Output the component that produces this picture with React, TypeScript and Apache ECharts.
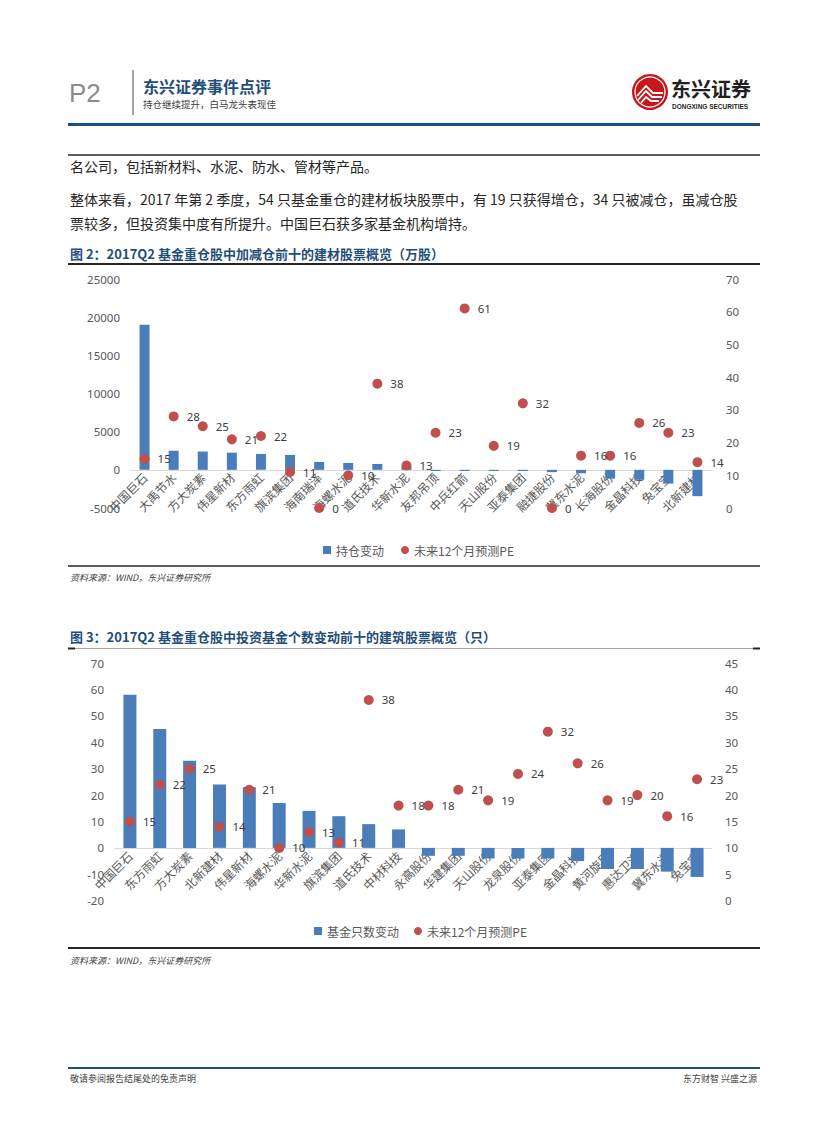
import React, { useEffect, useRef } from 'react';
import * as echarts from 'echarts';

// ---- Figure 2 data ----
const cats1 = ['中国巨石', '大禹节水', '方大炭素', '伟星新材', '东方雨虹', '旗滨集团', '海南瑞泽', '海螺水泥', '道氏技术', '华新水泥', '友邦吊顶', '中兵红箭', '天山股份', '亚泰集团', '融捷股份', '冀东水泥', '长海股份', '金晶科技', '兔宝宝', '北新建材'];
const hold1 = [19000, 2500, 2400, 2250, 2080, 1950, 1030, 900, 770, 430, -150, -150, -150, -150, -300, -450, -1150, -1300, -1800, -3450];
const pe1 = [15, 28, 25, 21, 22, 11, 0, 10, 38, 13, 23, 61, 19, 32, 0, 16, 16, 26, 23, 14];

// ---- Figure 3 data ----
const cats2 = ['中国巨石', '东方雨虹', '方大炭素', '北新建材', '伟星新材', '海螺水泥', '华新水泥', '旗滨集团', '道氏技术', '中材科技', '永高股份', '华建集团', '天山股份', '龙泉股份', '亚泰集团', '金晶科技', '黄河旋风', '惠达卫浴', '冀东水泥', '兔宝宝'];
const fund2 = [58, 45, 33, 24, 23, 17, 14, 12, 9, 7, -3, -3, -4, -4, -4, -5, -8, -8, -9, -11];
const pe2 = [15, 22, 25, 14, 21, 10, 13, 11, 38, 18, 18, 21, 19, 24, 32, 26, 19, 20, 16, 23];

const leftTicks1 = { min: -5000, max: 25000, interval: 5000 };
const rightTicks1 = { min: 0, max: 70, interval: 10 };
const leftTicks2 = { min: -20, max: 70, interval: 10 };
const rightTicks2 = { min: 0, max: 45, interval: 5 };

const BLUE = '#4A7EBB';
const RED = '#C0504D';
const NAVY = '#1F4E79';
const CJK = '"Noto Sans CJK SC"';

function T(text: string, x: number, y: number, size: number, o: any = {}) {
  return {
    type: 'text', x, y, silent: true,
    style: {
      text,
      fill: o.color || '#262626',
      fontSize: size,
      fontWeight: o.weight || 'normal',
      fontStyle: o.italic ? 'italic' : 'normal',
      fontFamily: o.family || CJK,
      textAlign: o.align || 'left',
      align: o.align || 'left',
      textVerticalAlign: 'middle',
      verticalAlign: 'middle',
    },
  };
}
function L(x1: number, y1: number, x2: number, y2: number, color: string, w: number) {
  return { type: 'line', silent: true, shape: { x1, y1, x2, y2 }, style: { stroke: color, lineWidth: w } };
}

const valAxis = (gridIndex: number, t: any, position: string, margin: number) => ({
  type: 'value', gridIndex, position, ...t,
  splitLine: { show: false }, axisLine: { show: false }, axisTick: { show: false },
  axisLabel: { color: '#595959', fontSize: 11.5, fontFamily: '"Noto Sans"', margin, formatter: (v: number) => String(v) },
});
const hiddenVal = (gridIndex: number) => ({ type: 'value', gridIndex, show: false, min: 0, max: 1 });

// main category axes: line on zero, no labels
const catAxis = (gridIndex: number, data: string[], zeroIdx: number) => ({
  type: 'category', gridIndex, data,
  axisLine: { onZero: true, onZeroAxisIndex: zeroIdx, lineStyle: { color: '#D9D9D9', width: 1 } },
  axisTick: { show: false },
  axisLabel: { show: false },
});
// label-only category axes whose bottom sits on the zero line
const labelAxis = (gridIndex: number, data: string[]) => ({
  type: 'category', gridIndex, data, position: 'bottom',
  axisLine: { show: false, onZero: false },
  axisTick: { show: false },
  axisLabel: { interval: 0, rotate: 45, fontSize: 12, color: '#595959', fontFamily: CJK, margin: 5 },
});

const peLabel = { show: true, position: 'right', distance: 8, color: '#404040', fontSize: 11.5, fontFamily: '"Noto Sans"' };

export default function App() {
  const ref = useRef<HTMLDivElement>(null);
  useEffect(() => {
    const chart = echarts.init(ref.current!, null, { renderer: 'svg', width: 827, height: 1122 });
    const option: any = {
      animation: false,
      backgroundColor: '#fff',
      grid: [
        { left: 130, width: 582, top: 279, height: 229 },
        { left: 115, width: 597, top: 663, height: 237.7 },
        { left: 130, width: 582, top: 279, height: 191 },
        { left: 115, width: 597, top: 663, height: 185.3 },
      ],
      xAxis: [catAxis(0, cats1, 0), catAxis(1, cats2, 2), labelAxis(2, cats1), labelAxis(3, cats2)],
      yAxis: [
        valAxis(0, leftTicks1, 'left', 10),
        valAxis(0, rightTicks1, 'right', 14),
        valAxis(1, leftTicks2, 'left', 11),
        valAxis(1, rightTicks2, 'right', 13),
        hiddenVal(2),
        hiddenVal(3),
      ],
      legend: [
        {
          left: 318, top: 539, itemWidth: 8, itemHeight: 8, itemGap: 17,
          textStyle: { color: '#595959', fontSize: 12, fontFamily: CJK },
          data: [{ name: '持仓变动', icon: 'rect' }, { name: '未来12个月预测PE', icon: 'circle' }],
        },
        {
          left: 309, top: 920, itemWidth: 8, itemHeight: 8, itemGap: 15,
          textStyle: { color: '#595959', fontSize: 12, fontFamily: CJK },
          data: [{ name: '基金只数变动', icon: 'rect' }, { name: '未来12个月预测PE', icon: 'circle' }],
        },
      ],
      series: [
        { type: 'bar', name: '持仓变动', xAxisIndex: 0, yAxisIndex: 0, data: hold1, barWidth: 10, itemStyle: { color: BLUE } },
        { type: 'scatter', name: '未来12个月预测PE', xAxisIndex: 0, yAxisIndex: 1, data: pe1, symbolSize: 10, itemStyle: { color: RED, opacity: 1 }, label: peLabel },
        { type: 'bar', name: '基金只数变动', xAxisIndex: 1, yAxisIndex: 2, data: fund2, barWidth: 13, itemStyle: { color: BLUE } },
        { type: 'scatter', name: '未来12个月预测PE', xAxisIndex: 1, yAxisIndex: 3, data: pe2, symbolSize: 10, itemStyle: { color: RED, opacity: 1 }, label: peLabel },
      ],
      graphic: [
        // header
        T('P2', 69, 93, 26, { color: '#8C8C8C', family: '"Liberation Sans"' }),
        L(133, 70, 133, 115, '#A6A6A6', 2),
        T('东兴证券事件点评', 143, 86, 16, { color: NAVY, weight: 'bold' }),
        T('持仓继续提升，白马龙头表现佳', 143, 103.5, 9.5, { color: '#404040' }),
        { type: 'circle', silent: true, shape: { cx: 650, cy: 92, r: 18 }, style: { fill: '#C8161D' } },
        { type: 'circle', silent: true, shape: { cx: 650, cy: 92, r: 15 }, style: { fill: 'none', stroke: '#fff', lineWidth: 1.2 } },
        { type: 'polyline', silent: true, shape: { points: [[637, 96], [646, 86], [653, 93], [663, 93]] }, style: { stroke: '#fff', lineWidth: 1.8, fill: 'none' } },
        { type: 'polyline', silent: true, shape: { points: [[638, 100], [646, 91], [652, 97], [662, 97]] }, style: { stroke: '#fff', lineWidth: 1.8, fill: 'none' } },
        { type: 'polyline', silent: true, shape: { points: [[641, 103], [646, 97], [651, 101], [659, 101]] }, style: { stroke: '#fff', lineWidth: 1.8, fill: 'none' } },
        T('东兴证券', 671, 88, 20, { color: '#231F20', weight: 'bold' }),
        T('DONGXING SECURITIES', 672, 106.5, 6.5, { color: '#231F20', weight: 'bold', family: '"Liberation Sans"' }),
        L(68, 124.5, 760, 124.5, NAVY, 3),
        // body
        L(68, 155, 760, 155, '#262626', 1.5),
        T('名公司，包括新材料、水泥、防水、管材等产品。', 70, 166, 14),
        T('整体来看，2017 年第 2 季度，54 只基金重仓的建材板块股票中，有 19 只获得增仓，34 只被减仓，虽减仓股', 70, 199, 14),
        T('票较多，但投资集中度有所提升。中国巨石获多家基金机构增持。', 70, 223, 14),
        // figure 2 frame
        T('图 2：2017Q2 基金重仓股中加减仓前十的建材股票概览（万股）', 70, 253, 13, { color: NAVY, weight: 'bold' }),
        L(68, 264, 760, 264, '#262626', 2),
        L(68, 566, 760, 566, '#262626', 1.5),
        T('资料来源：WIND，东兴证券研究所', 70, 577, 9, { color: '#404040', italic: true }),
        // figure 3 frame
        T('图 3：2017Q2 基金重仓股中投资基金个数变动前十的建筑股票概览（只）', 70, 636, 13, { color: NAVY, weight: 'bold' }),
        L(68, 648.5, 760, 648.5, '#A6A6A6', 1),
        L(68, 648.5, 75, 648.5, '#262626', 2),
        L(753, 648.5, 760, 648.5, '#262626', 2),
        L(68, 948, 760, 948, '#262626', 2),
        T('资料来源：WIND，东兴证券研究所', 70, 960, 9, { color: '#404040', italic: true }),
        // footer
        L(68, 1068, 760, 1068, NAVY, 2),
        T('敬请参阅报告结尾处的免责声明', 70, 1078, 9, { color: '#404040' }),
        T('东方财智 兴盛之源', 757, 1078, 9, { color: '#404040', align: 'right' }),
      ],
    };
    chart.setOption(option);
    return () => chart.dispose();
  }, []);
  return <div ref={ref} style={{ position: 'absolute', left: 0, top: 0, width: 827, height: 1122, background: '#fff' }} />;
}
